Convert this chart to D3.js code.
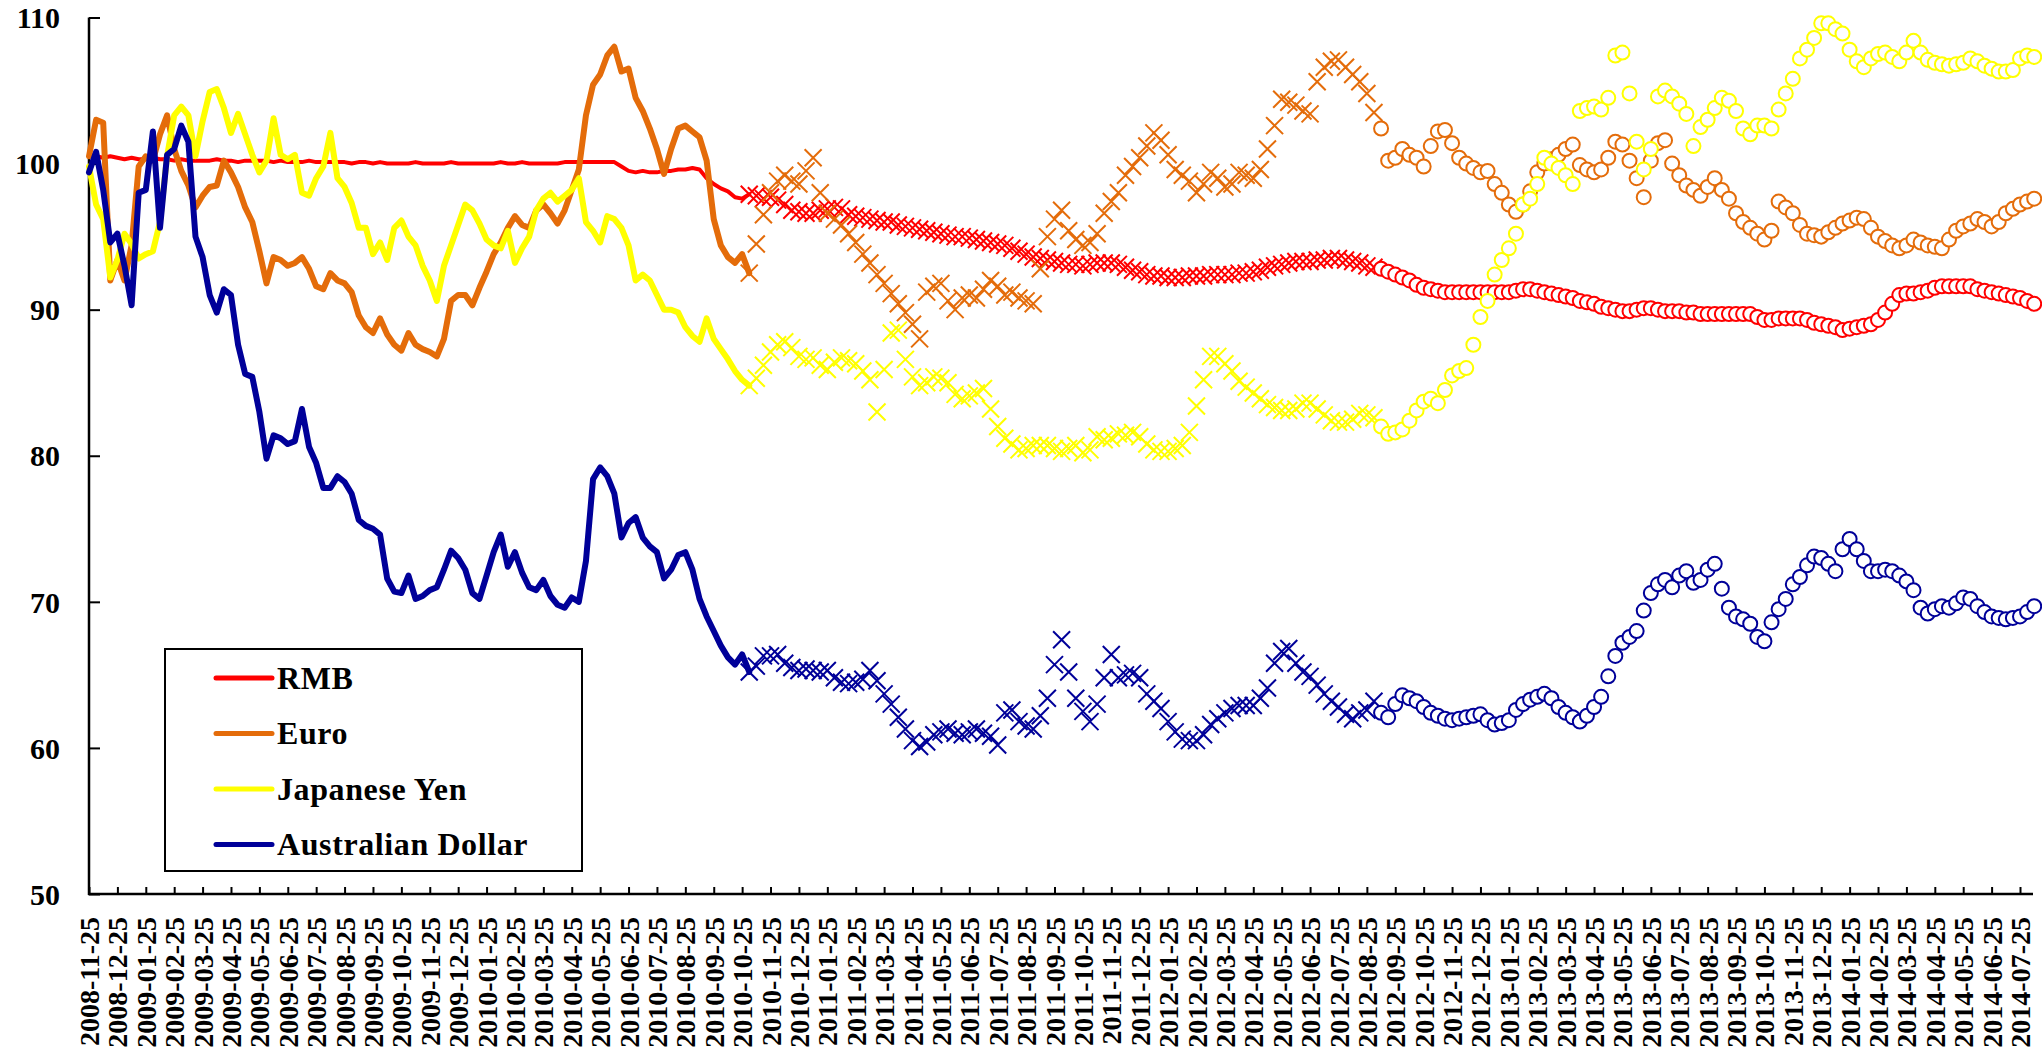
<!DOCTYPE html>
<html>
<head>
<meta charset="utf-8">
<script src="https://cdn.jsdelivr.net/npm/d3@7"></script>
<style>
  body { margin: 0; background: #fff; }
  svg { display: block; }
  text { font-family: "Liberation Serif", "Times New Roman", serif; font-weight: bold; fill: #000; }
</style>
</head>
<body>
<script>
// Tick labels of the x axis (one per month)
const monthLabels = [
  "2008-11-25", "2008-12-25",
  "2009-01-25", "2009-02-25", "2009-03-25", "2009-04-25", "2009-05-25", "2009-06-25",
  "2009-07-25", "2009-08-25", "2009-09-25", "2009-10-25", "2009-11-25", "2009-12-25",
  "2010-01-25", "2010-02-25", "2010-03-25", "2010-04-25", "2010-05-25", "2010-06-25",
  "2010-07-25", "2010-08-25", "2010-09-25", "2010-10-25", "2010-11-25", "2010-12-25",
  "2011-01-25", "2011-02-25", "2011-03-25", "2011-04-25", "2011-05-25", "2011-06-25",
  "2011-07-25", "2011-08-25", "2011-09-25", "2011-10-25", "2011-11-25", "2011-12-25",
  "2012-01-25", "2012-02-25", "2012-03-25", "2012-04-25", "2012-05-25", "2012-06-25",
  "2012-07-25", "2012-08-25", "2012-09-25", "2012-10-25", "2012-11-25", "2012-12-25",
  "2013-01-25", "2013-02-25", "2013-03-25", "2013-04-25", "2013-05-25", "2013-06-25",
  "2013-07-25", "2013-08-25", "2013-09-25", "2013-10-25", "2013-11-25", "2013-12-25",
  "2014-01-25", "2014-02-25", "2014-03-25", "2014-04-25", "2014-05-25", "2014-06-25",
  "2014-07-25"
];
const yTicks = [50, 60, 70, 80, 90, 100, 110];

// Index values, read about weekly (4 per month, one row per month)
const rmb = [
  100.6, 100.5, 100.4, 100.5,  100.4, 100.3, 100.4, 100.3,  100.3, 100.4, 100.3, 100.3,
  100.2, 100.3, 100.2, 100.2,  100.2, 100.2, 100.3, 100.2,  100.2, 100.1, 100.2, 100.2,
  100.2, 100.2, 100.1, 100.2,  100.1, 100.1, 100.1, 100.2,  100.1, 100.1, 100.1, 100.1,
  100.1, 100.0, 100.1, 100.1,  100.0, 100.1, 100.0, 100.0,  100.0, 100.0, 100.1, 100.0,
  100.0, 100.0, 100.0, 100.1,  100.0, 100.0, 100.0, 100.0,  100.0, 100.0, 100.1, 100.0,
  100.0, 100.1, 100.0, 100.0,  100.0, 100.0, 100.0, 100.1,  100.1, 100.1, 100.1, 100.1,
  100.1, 100.1, 100.1, 99.8,   99.5, 99.4, 99.5, 99.4,      99.4, 99.5, 99.5, 99.6,
  99.6, 99.7, 99.6, 99.0,      98.6, 98.3, 98.1, 97.7,      97.6, 97.9, 97.8, 97.6,
  97.7, 97.5, 97.2, 96.8,      96.7, 96.6, 96.6, 96.8,      96.9, 97.0, 96.9, 96.5,
  96.4, 96.3, 96.2, 96.1,      96.0, 96.0, 95.8, 95.7,      95.6, 95.5, 95.4, 95.3,
  95.2, 95.1, 95.0, 95.0,      94.9, 94.8, 94.7, 94.6,      94.5, 94.4, 94.2, 94.0,
  93.8, 93.6, 93.5, 93.4,      93.3, 93.2, 93.1, 93.1,      93.0, 93.1, 93.2, 93.2,
  93.2, 93.1, 92.9, 92.7,      92.6, 92.4, 92.3, 92.3,      92.2, 92.2, 92.2, 92.3,
  92.3, 92.3, 92.4, 92.4,      92.4, 92.4, 92.5, 92.5,      92.6, 92.7, 92.9, 93.0,
  93.1, 93.2, 93.3, 93.3,      93.3, 93.4, 93.4, 93.5,      93.5, 93.4, 93.3, 93.2,
  93.0, 92.9, 92.8, 92.6,      92.4, 92.2, 92.0, 91.7,      91.5, 91.4, 91.3, 91.2,
  91.2, 91.2, 91.2, 91.2,      91.2, 91.2, 91.2, 91.2,      91.2, 91.3, 91.4, 91.4,
  91.3, 91.2, 91.1, 91.0,      90.9, 90.8, 90.6, 90.5,      90.4, 90.2, 90.1, 90.0,
  89.9, 89.9, 90.0, 90.1,      90.1, 90.0, 89.9, 89.9,      89.9, 89.8, 89.8, 89.7,
  89.7, 89.7, 89.7, 89.7,      89.7, 89.7, 89.7, 89.5,      89.3, 89.3, 89.4, 89.4,
  89.4, 89.4, 89.3, 89.1,      89.0, 88.9, 88.8, 88.6,      88.7, 88.8, 88.9, 89.0,
  89.3, 89.8, 90.4, 91.0,      91.1, 91.1, 91.2, 91.3,      91.5, 91.6, 91.6, 91.6,
  91.6, 91.6, 91.4, 91.3,      91.2, 91.1, 91.0, 90.9,      90.8, 90.6, 90.4
];
const euro = [
  100.5, 103.0, 102.8, 92.0,   93.4, 92.0, 94.4, 99.8,      100.5, 100.2, 102.0, 103.3,
  101.0, 99.5, 98.5, 97.0,     97.8, 98.4, 98.5, 100.2,     99.4, 98.4, 97.0, 96.0,
  94.0, 91.8, 93.6, 93.4,      93.0, 93.2, 93.6, 92.8,      91.6, 91.4, 92.5, 92.0,
  91.8, 91.2, 89.6, 88.8,      88.4, 89.4, 88.3, 87.6,      87.2, 88.4, 87.6, 87.3,
  87.1, 86.8, 88.0, 90.6,      91.0, 91.0, 90.3, 91.5,      92.6, 93.8, 94.6, 95.6,
  96.4, 95.8, 95.6, 96.8,      97.2, 96.6, 95.9, 96.8,      98.2, 99.6, 103.3, 105.4,
  106.1, 107.4, 108.0, 106.3,  106.5, 104.5, 103.6, 102.4,  101.0, 99.3, 101.0, 102.4,
  102.6, 102.2, 101.8, 100.2,  96.2, 94.4, 93.6, 93.2,      93.8, 92.5, 94.5, 96.5,
  98.0, 98.8, 99.2, 98.8,      98.6, 99.5, 100.4, 98.0,     96.6, 96.2, 95.8, 95.2,
  94.6, 93.8, 93.2, 92.4,      91.8, 91.1, 90.4, 89.8,      89.0, 88.0, 91.2, 91.6,
  91.8, 90.6, 90.0, 90.8,      91.0, 90.8, 91.4, 92.0,      91.6, 91.0, 91.2, 90.8,
  90.6, 90.4, 92.8, 95.0,      96.2, 96.8, 95.4, 94.8,      94.4, 94.6, 95.2, 96.6,
  97.4, 98.0, 99.2, 99.8,      100.4, 101.2, 102.1, 101.6,  100.6, 99.6, 99.2, 98.8,
  98.0, 98.6, 99.4, 99.0,      98.4, 98.6, 99.4, 99.2,      99.0, 99.6, 101.0, 102.6,
  104.4, 104.2, 104.0, 103.6,  103.4, 105.6, 106.6, 107.0,  107.1, 106.6, 106.1, 105.6,
  104.8, 103.5, 102.4, 100.2,  100.4, 101.0, 100.6, 100.4,  99.8, 101.2, 102.2, 102.3,
  101.4, 100.4, 100.0, 99.7,   99.4, 99.5, 98.6, 98.0,      97.2, 96.7, 97.2, 98.1,
  99.4, 100.0, 100.3, 100.6,   101.0, 101.3, 99.9, 99.6,    99.4, 99.6, 100.4, 101.5,
  101.3, 100.2, 99.0, 97.7,    100.2, 101.4, 101.6, 100.0,  99.2, 98.5, 98.2, 97.8,
  98.4, 99.0, 98.2, 97.6,      96.6, 96.0, 95.6, 95.2,      94.8, 95.4, 97.4, 97.0,
  96.6, 95.8, 95.2, 95.1,      95.0, 95.3, 95.6, 95.9,      96.1, 96.3, 96.2, 95.6,
  95.0, 94.7, 94.4, 94.2,      94.4, 94.8, 94.6, 94.4,      94.3, 94.2, 94.8, 95.4,
  95.7, 95.9, 96.2, 96.0,      95.7, 96.0, 96.6, 96.9,      97.2, 97.4, 97.6
];
const yen = [
  99.8, 97.2, 96.2, 92.2,      93.4, 95.2, 94.5, 93.5,      93.8, 94.0, 96.0, 100.5,
  103.3, 103.9, 103.3, 100.5,  102.9, 104.9, 105.1, 103.8,  102.1, 103.4, 102.0, 100.6,
  99.4, 100.2, 103.1, 100.6,   100.3, 100.6, 98.0, 97.8,    99.0, 99.8, 102.1, 99.0,
  98.4, 97.3, 95.6, 95.6,      93.8, 94.6, 93.4, 95.6,      96.1, 95.0, 94.4, 93.0,
  92.0, 90.6, 93.0, 94.4,      95.8, 97.2, 96.8, 95.9,      94.8, 94.4, 94.2, 95.4,
  93.2, 94.2, 95.0, 96.8,      97.6, 98.0, 97.4, 97.8,      98.2, 99.0, 96.0, 95.4,
  94.6, 96.4, 96.2, 95.6,      94.4, 92.0, 92.4, 92.0,      91.0, 90.0, 90.0, 89.8,
  88.8, 88.2, 87.8, 89.4,      88.0, 87.3, 86.6, 85.8,      85.2, 84.8, 85.3, 86.2,
  87.1, 87.6, 87.8, 87.4,      86.8, 86.6, 86.7, 86.2,      85.9, 86.4, 86.7, 86.5,
  86.3, 85.8, 85.2, 83.0,      85.9, 88.4, 88.6, 86.6,      85.4, 84.8, 85.0, 85.4,
  85.3, 85.0, 84.2, 83.9,      84.1, 84.3, 84.6, 83.2,      82.0, 81.2, 80.8, 80.4,
  80.5, 80.7, 80.7, 80.7,      80.5, 80.3, 80.5, 80.7,      80.2, 80.4, 81.3, 81.1,
  81.2, 81.5, 81.4, 81.6,      81.3, 80.8, 80.4, 80.3,      80.3, 80.5, 80.7, 81.6,
  83.4, 85.2, 86.8, 86.8,      86.3, 85.8, 85.1, 84.7,      84.3, 83.9, 83.5, 83.3,
  83.1, 83.1, 83.2, 83.6,      83.6, 83.2, 82.8, 82.4,      82.3, 82.3, 82.5, 82.9,
  82.8, 82.6, 82.0, 81.5,      81.6, 81.8, 82.4, 83.1,      83.7, 83.9, 83.6, 84.5,
  85.5, 85.8, 86.0, 87.6,      89.5, 90.6, 92.4, 93.4,      94.2, 95.2, 97.2, 97.6,
  98.6, 100.4, 100.0, 99.7,    99.2, 98.6, 103.6, 103.8,    103.9, 103.7, 104.5, 107.4,
  107.6, 104.8, 101.5, 99.6,   101.0, 104.6, 105.0, 104.6,  104.1, 103.4, 101.2, 102.5,
  103.0, 103.8, 104.5, 104.3,  103.6, 102.4, 102.0, 102.6,  102.6, 102.4, 103.7, 104.8,
  105.8, 107.2, 107.8, 108.6,  109.6, 109.6, 109.2, 108.9,  107.8, 107.0, 106.6, 107.2,
  107.5, 107.6, 107.3, 107.0,  107.6, 108.4, 107.6, 107.1,  106.9, 106.8, 106.7, 106.8,
  106.9, 107.2, 107.0, 106.7,  106.5, 106.3, 106.3, 106.4,  107.2, 107.4, 107.3
];
const aud = [
  99.4, 100.8, 98.2, 94.6,     95.2, 93.0, 90.3, 98.0,      98.2, 102.2, 95.6, 100.6,
  101.0, 102.6, 101.5, 95.0,   93.6, 91.0, 89.8, 91.4,      91.0, 87.6, 85.6, 85.4,
  83.0, 79.8, 81.4, 81.2,      80.8, 81.0, 83.2, 80.6,      79.5, 77.8, 77.8, 78.6,
  78.2, 77.4, 75.6, 75.2,      75.0, 74.6, 71.6, 70.7,      70.6, 71.8, 70.2, 70.4,
  70.8, 71.0, 72.2, 73.5,      73.0, 72.2, 70.6, 70.2,      71.8, 73.4, 74.6, 72.4,
  73.4, 72.0, 71.0, 70.8,      71.5, 70.4, 69.8, 69.6,      70.3, 70.0, 72.8, 78.4,
  79.2, 78.6, 77.4, 74.4,      75.4, 75.8, 74.4, 73.8,      73.4, 71.6, 72.2, 73.2,
  73.4, 72.2, 70.2, 69.0,      68.0, 67.0, 66.2, 65.7,      66.4, 65.2, 65.6, 66.3,
  66.3, 66.4, 65.8, 65.5,      65.3, 65.4, 65.3, 65.2,      65.3, 64.8, 64.5, 64.4,
  64.5, 64.7, 65.3, 64.6,      63.7, 63.0, 62.1, 61.3,      60.5, 60.1, 60.4, 60.9,
  61.1, 61.3, 61.0, 60.9,      61.1, 61.3, 61.0, 60.8,      60.2, 62.4, 62.6, 61.8,
  61.5, 61.3, 62.2, 63.4,      65.7, 67.4, 65.2, 63.4,      62.5, 61.8, 63.0, 64.8,
  66.4, 64.8, 65.0, 65.1,      64.8, 63.7, 63.2, 62.7,      61.8, 61.1, 60.6, 60.5,
  60.5, 60.9, 61.6, 62.0,      62.4, 62.7, 62.9, 62.9,      62.9, 63.4, 64.1, 65.8,
  66.6, 66.8, 65.8, 65.2,      64.9, 64.3, 63.7, 63.2,      62.8, 62.3, 62.0, 62.4,
  62.6, 63.2, 62.4, 62.1,      63.0, 63.6, 63.4, 63.2,      62.8, 62.4, 62.2, 62.0,
  61.9, 62.0, 62.1, 62.2,      62.3, 61.9, 61.6, 61.7,      61.9, 62.6, 63.0, 63.3,
  63.5, 63.7, 63.4, 62.8,      62.4, 62.1, 61.8, 62.2,      62.8, 63.5, 64.9, 66.3,
  67.2, 67.6, 68.0, 69.4,      70.6, 71.2, 71.5, 71.0,      71.8, 72.1, 71.3, 71.5,
  72.2, 72.6, 70.9, 69.6,      69.0, 68.8, 68.5, 67.6,      67.3, 68.6, 69.5, 70.2,
  71.2, 71.7, 72.5, 73.1,      73.0, 72.6, 72.1, 73.6,      74.3, 73.6, 72.8, 72.1,
  72.1, 72.2, 72.1, 71.8,      71.4, 70.8, 69.6, 69.2,      69.5, 69.7, 69.6, 69.9,
  70.3, 70.2, 69.7, 69.3,      69.0, 68.9, 68.8, 68.9,      69.0, 69.3, 69.7
];

const series = [
  { name: "RMB", color: "#ff0000", values: rmb, width: 4 },
  { name: "Euro", color: "#e46c0a", values: euro, width: 6 },
  { name: "Japanese Yen", color: "#ffff00", values: yen, width: 6 },
  { name: "Australian Dollar", color: "#000099", values: aud, width: 6 }
];

const width = 2042, height = 1047;
const perMonth = 4;      // points per month
const crossStart = 93;   // first point drawn as a cross
const circleStart = 182; // first point drawn as a circle

const svg = d3.select("body").append("svg")
  .attr("width", width)
  .attr("height", height);

const x = d3.scaleLinear().domain([0, monthLabels.length - 1]).range([89, 2020]);
const y = d3.scaleLinear().domain([50, 110]).range([894, 17.5]);

// axes
const yAxis = svg.append("g")
  .attr("transform", "translate(89,0)")
  .call(d3.axisLeft(y).tickValues(yTicks).tickSizeInner(-11).tickSizeOuter(0).tickPadding(29));
yAxis.select(".domain").remove();
yAxis.selectAll("line").attr("stroke-width", 2);
yAxis.selectAll("text")
  .attr("font-size", 30)
  .attr("font-family", null)
  .attr("dy", "0.34em");

const xAxis = svg.append("g")
  .attr("transform", "translate(0,894)")
  .call(d3.axisBottom(x).tickValues(d3.range(monthLabels.length))
    .tickFormat(i => monthLabels[i]).tickSizeInner(-7).tickSizeOuter(0));
xAxis.select(".domain").remove();
xAxis.selectAll("line").attr("stroke-width", 2);
xAxis.selectAll("text")
  .attr("font-size", 28)
  .attr("font-family", null)
  .attr("transform", "rotate(-90)")
  .attr("text-anchor", "end")
  .attr("x", -23)
  .attr("y", 0)
  .attr("dy", "0.34em");

svg.append("line").attr("x1", 89).attr("x2", 89).attr("y1", 17.5).attr("y2", 895)
  .attr("stroke", "#000").attr("stroke-width", 2.5);
svg.append("line").attr("x1", 88).attr("x2", 2033).attr("y1", 894).attr("y2", 894)
  .attr("stroke", "#000").attr("stroke-width", 2.5);

// series
const line = d3.line()
  .x(d => x(d.i / perMonth))
  .y(d => y(d.v));

const cross = 8.5;
series.forEach(s => {
  const pts = s.values.map((v, i) => ({ i, v }));
  const g = svg.append("g");

  g.append("path")
    .datum(pts.filter(d => d.i <= crossStart))
    .attr("d", line)
    .attr("fill", "none")
    .attr("stroke", s.color)
    .attr("stroke-width", s.width)
    .attr("stroke-linejoin", "round")
    .attr("stroke-linecap", "round");

  g.selectAll("path.cross")
    .data(pts.filter(d => d.i >= crossStart && d.i < circleStart))
    .enter().append("path")
    .attr("class", "cross")
    .attr("transform", d => `translate(${x(d.i / perMonth)},${y(d.v)})`)
    .attr("d", `M${-cross},${-cross}L${cross},${cross}M${-cross},${cross}L${cross},${-cross}`)
    .attr("stroke", s.color)
    .attr("stroke-width", 2);

  g.selectAll("circle")
    .data(pts.filter(d => d.i >= circleStart))
    .enter().append("circle")
    .attr("cx", d => x(d.i / perMonth))
    .attr("cy", d => y(d.v))
    .attr("r", 7)
    .attr("fill", "#fff")
    .attr("stroke", s.color)
    .attr("stroke-width", 2);
});

// legend
const legend = svg.append("g");
legend.append("rect")
  .attr("x", 165).attr("y", 649).attr("width", 417).attr("height", 222)
  .attr("fill", "#fff").attr("stroke", "#000").attr("stroke-width", 2);

const rows = legend.selectAll("g.row")
  .data(series)
  .enter().append("g")
  .attr("class", "row")
  .attr("transform", (d, i) => `translate(0,${678 + i * 55.5})`);
rows.append("line")
  .attr("x1", 216).attr("x2", 272)
  .attr("stroke", d => d.color)
  .attr("stroke-width", 5)
  .attr("stroke-linecap", "round");
rows.append("text")
  .attr("x", 277)
  .attr("dy", "0.34em")
  .attr("font-size", 32)
  .attr("letter-spacing", 0.6)
  .text(d => d.name);
</script>
</body>
</html>
